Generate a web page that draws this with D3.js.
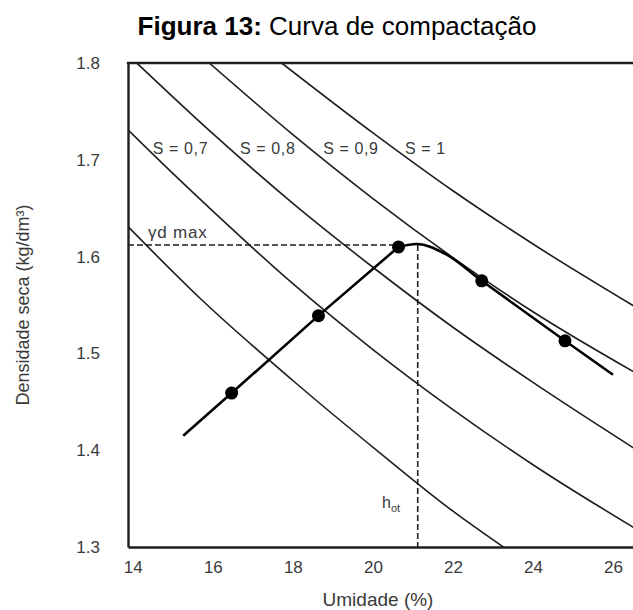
<!DOCTYPE html>
<html>
<head>
<meta charset="utf-8">
<script src="https://cdn.jsdelivr.net/npm/d3@7"></script>
<style>
  body { margin: 0; background: #fff; }
  svg { display: block; font-family: "Liberation Sans", Arial, sans-serif; }
</style>
</head>
<body>
<svg id="chart"></svg>
<script>
// Curva de compactação com curvas de saturação

const xTicks = [14, 16, 18, 20, 22, 24, 26];
const yTicks = [1.3, 1.4, 1.5, 1.6, 1.7, 1.8];

// curvas de saturação [umidade %, densidade seca]
const curveS06 = [[13.88, 1.631], [15.68, 1.557], [18, 1.472], [20.18, 1.397], [22, 1.337], [23.4, 1.296]];
const curveS07 = [[13.88, 1.731], [15, 1.686], [16, 1.647], [18, 1.572], [20, 1.504], [22, 1.442], [24, 1.385], [26.6, 1.318]];
const curveS08 = [[14.10, 1.80], [16, 1.727], [18, 1.655], [20, 1.589], [22, 1.527], [24, 1.470], [26.6, 1.400]];
const curveS09 = [[15.91, 1.80], [18, 1.726], [20, 1.660], [22, 1.599], [24, 1.543], [26.6, 1.479]];
const curveS10 = [[17.72, 1.80], [20.06, 1.726], [22, 1.668], [24, 1.613], [26.6, 1.547]];

const satLabels = ["S = 0,7", "S = 0,8", "S = 0,9", "S = 1"];
const satLabelX = [14.5, 16.68, 18.76, 20.8];
const satLabelY = 1.712;

// ensaio de compactação
const dryBranch = [[15.26, 1.415], [16.47, 1.459], [18.64, 1.539], [20.64, 1.610]];
const wetBranch = [[20.64, 1.610], [21.1, 1.613], [21.8, 1.603], [22.72, 1.575], [24.8, 1.513], [26.0, 1.478]];
const testPoints = [[16.47, 1.459], [18.64, 1.539], [20.64, 1.610], [22.72, 1.575], [24.8, 1.513]];

const gdMax = 1.612;   // γd max
const hOt = 21.12;     // umidade ótima

const width = 633;
const height = 610;
const plot = { left: 128, top: 63, right: 633, bottom: 547 };
const ink = "#1e1e1e";
const textInk = "#3a3a3a";

const svg = d3.select("#chart")
  .attr("width", width)
  .attr("height", height);

const x = d3.scaleLinear().domain([13.88, 26.5]).range([plot.left, plot.right]);
const y = d3.scaleLinear().domain([1.3, 1.8]).range([plot.bottom, plot.top]);

// título
const title = svg.append("text")
  .attr("x", 337)
  .attr("y", 35)
  .attr("text-anchor", "middle")
  .style("font-size", "26px")
  .style("fill", "#000");
title.append("tspan").style("font-weight", "bold").text("Figura 13:");
title.append("tspan").text(" Curva de compactação");

svg.append("clipPath").attr("id", "plot-clip")
  .append("rect")
  .attr("x", plot.left).attr("y", plot.top)
  .attr("width", plot.right - plot.left).attr("height", plot.bottom - plot.top);

const g = svg.append("g").attr("clip-path", "url(#plot-clip)");

const line = d3.line()
  .x(d => x(d[0]))
  .y(d => y(d[1]))
  .curve(d3.curveMonotoneX);

// curvas de saturação
[curveS06, curveS07, curveS08, curveS09, curveS10].forEach(c => {
  g.append("path")
    .datum(c)
    .attr("d", line)
    .attr("fill", "none")
    .attr("stroke", ink)
    .attr("stroke-width", 1.6);
});

// linhas tracejadas γd max / h ot
g.append("line")
  .attr("x1", x.range()[0]).attr("x2", x(testPoints[2][0]))
  .attr("y1", y(gdMax)).attr("y2", y(gdMax))
  .attr("stroke", ink).attr("stroke-width", 1.6)
  .attr("stroke-dasharray", "6,3");
g.append("line")
  .attr("x1", x(hOt)).attr("x2", x(hOt))
  .attr("y1", y(gdMax)).attr("y2", y(1.3))
  .attr("stroke", ink).attr("stroke-width", 1.6)
  .attr("stroke-dasharray", "6,3");

// curva de compactação
g.append("path")
  .datum(dryBranch)
  .attr("d", line.curve(d3.curveLinear))
  .attr("fill", "none").attr("stroke", "#000").attr("stroke-width", 2.6);
g.append("path")
  .datum(wetBranch)
  .attr("d", line.curve(d3.curveMonotoneX))
  .attr("fill", "none").attr("stroke", "#000").attr("stroke-width", 2.6);

g.selectAll("circle.pt")
  .data(testPoints)
  .enter()
  .append("circle")
  .attr("class", "pt")
  .attr("cx", d => x(d[0]))
  .attr("cy", d => y(d[1]))
  .attr("r", 6.5)
  .attr("fill", "#000");

// rótulos das curvas
svg.selectAll("text.sat")
  .data(satLabels)
  .enter()
  .append("text")
  .attr("class", "sat")
  .attr("x", (d, i) => x(satLabelX[i]))
  .attr("y", y(satLabelY))
  .attr("dy", "0.35em")
  .style("font-size", "16px")
  .style("letter-spacing", "0.6px")
  .style("fill", textInk)
  .text(d => d);

svg.append("text")
  .attr("x", x(14.38))
  .attr("y", y(1.619))
  .style("font-size", "17px")
  .style("letter-spacing", "0.8px")
  .style("fill", textInk)
  .text("γd max");

const hLabel = svg.append("text")
  .attr("x", x(20.23))
  .attr("y", y(1.340))
  .style("font-size", "16px")
  .style("fill", textInk);
hLabel.append("tspan").text("h");
hLabel.append("tspan").attr("dy", 4).style("font-size", "11px").text("ot");

// eixos
const xAxis = svg.append("g")
  .attr("transform", `translate(0,${plot.bottom})`)
  .call(d3.axisBottom(x).tickValues(xTicks).tickSize(0).tickPadding(14).tickFormat(d3.format("d")));
const yAxis = svg.append("g")
  .attr("transform", `translate(${plot.left},0)`)
  .call(d3.axisLeft(y).tickValues(yTicks).tickSize(0).tickPadding(28).tickFormat(d3.format(".1f")));

[xAxis, yAxis].forEach(a => {
  a.select(".domain").attr("stroke", ink).attr("stroke-width", 2.4);
  a.selectAll("text")
    .style("font-size", "17px")
    .style("font-family", "\"Liberation Sans\", Arial, sans-serif")
    .style("fill", textInk);
});

// linha superior do quadro
svg.append("line")
  .attr("x1", plot.left - 1.2).attr("x2", plot.right)
  .attr("y1", plot.top).attr("y2", plot.top)
  .attr("stroke", ink).attr("stroke-width", 2.4);

// títulos dos eixos
svg.append("text")
  .attr("x", 378)
  .attr("y", 606)
  .attr("text-anchor", "middle")
  .style("font-size", "19px")
  .style("fill", textInk)
  .text("Umidade (%)");

svg.append("text")
  .attr("transform", `translate(29,${(plot.top + plot.bottom) / 2}) rotate(-90)`)
  .attr("text-anchor", "middle")
  .style("font-size", "18px")
  .style("fill", textInk)
  .text("Densidade seca (kg/dm³)");
</script>
</body>
</html>
